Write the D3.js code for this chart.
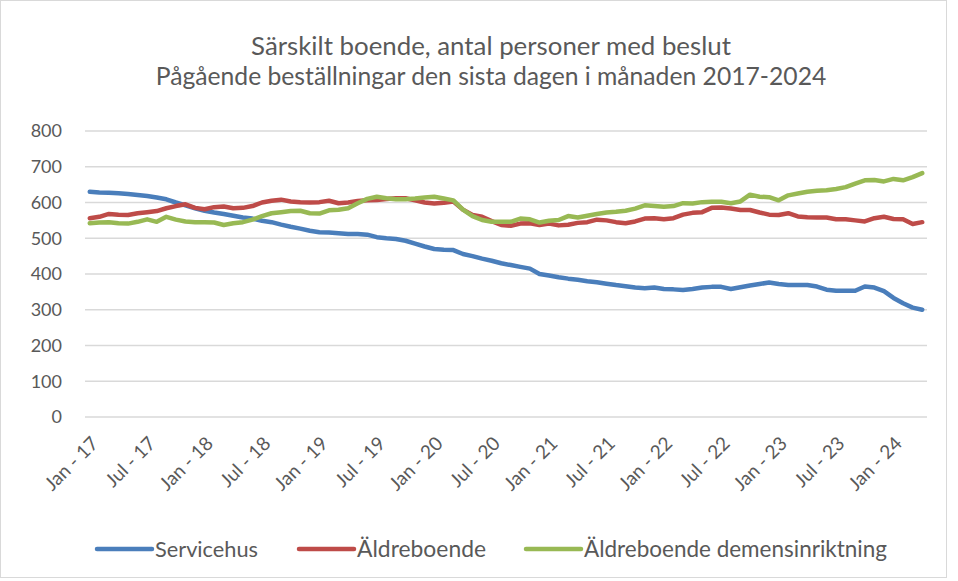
<!DOCTYPE html>
<html>
<head>
<meta charset="utf-8">
<script src="https://cdn.jsdelivr.net/npm/d3@7"></script>
<style>
  body { margin: 0; background: #fff; }
  svg text { font-family: Lato, "Open Sans", sans-serif; fill: #595959; }
</style>
</head>
<body>
<div id="chart"></div>
<script>
// Monthly values Jan 2017 - Apr 2024
const years = [17, 18, 19, 20, 21, 22, 23, 24];
const monthNames = ["Jan", "Feb", "Mar", "Apr", "Maj", "Jun", "Jul", "Aug", "Sep", "Okt", "Nov", "Dec"];
const monthCount = 88;

const servicehus = [
  630, 628, 627, 626, 624, 621, 618, 614, 609, 600, 592, 584,
  577, 572, 568, 563, 558, 555, 549, 545, 538, 532, 527, 521,
  517, 516, 514, 512, 512, 510, 503, 500, 498, 493, 485, 477,
  470, 468, 467, 456, 450, 443, 437, 430, 425, 420, 415, 400,
  396, 391, 387, 384, 380, 377, 373, 369, 366, 362, 360, 362,
  358, 357, 355, 358, 362, 364, 364, 358, 363, 368, 372, 376,
  372, 369, 369, 369, 365, 356, 353, 353, 353, 365, 362, 352,
  333, 318, 306, 300
];
const aldreboende = [
  556, 560, 568, 566, 565, 570, 573, 576, 584, 590, 595, 585,
  581, 587, 589, 584, 585, 590, 600, 605, 608, 603, 601, 600,
  601, 605, 598, 600, 604, 606, 607, 610, 612, 612, 606, 600,
  597, 599, 603, 580, 565, 560, 548, 537, 535, 541, 542, 537,
  541, 536, 538, 543, 545, 552, 550, 545, 542, 547, 555, 556,
  553, 556, 566, 571, 573, 585, 586, 583, 579, 579, 572, 566,
  565, 570, 561, 559, 558, 558, 553, 553, 550, 547, 556, 560,
  554, 553, 540, 545
];
const demens = [
  542, 544, 545, 542, 541, 546, 553, 546, 560, 552, 547, 545,
  545, 544, 537, 542, 545, 552, 562, 570, 573, 576, 577, 570,
  569, 578, 580, 584, 598, 610, 616, 612, 609, 609, 611, 614,
  616, 611, 606, 580, 562, 551, 546, 546, 546, 555, 553, 544,
  549, 551, 562, 558, 563, 568, 572, 574, 577, 583, 592, 590,
  588, 590, 598, 597, 601, 602, 602, 598, 603, 622, 616, 615,
  606, 620, 625, 630, 633, 634, 638, 643, 653, 662, 663, 659,
  666, 662, 671, 682
];
const yTicks = [0, 100, 200, 300, 400, 500, 600, 700, 800];

const titleLines = [
  "Särskilt boende, antal personer med beslut",
  "Pågående beställningar den sista dagen i månaden 2017-2024"
];
const seriesNames = ["Servicehus", "Äldreboende", "Äldreboende demensinriktning"];
const colors = ["#4a7ebb", "#be4b48", "#98b954"];

const width = 958;
const height = 581;
const plot = { left: 85, right: 927, top: 131, bottom: 417 };

const months = d3.range(monthCount).map(i => {
  const y = years[0] + Math.floor(i / 12);
  return `${monthNames[i % 12]} - ${y}`;
});

// scale a text's font so it spans the width it has in the reference
function fitWidth(sel, target) {
  sel.each(function () {
    const el = d3.select(this);
    const size = parseFloat(el.style("font-size"));
    const w = this.getComputedTextLength();
    el.style("font-size", (size * target / w).toFixed(2) + "px");
  });
}

const svg = d3.select("#chart")
  .append("svg")
  .attr("width", width)
  .attr("height", height);

svg.append("rect")
  .attr("x", 0.5).attr("y", 0.5)
  .attr("width", 946).attr("height", 577)
  .attr("fill", "#fff")
  .attr("stroke", "#d9d9d9");

const x = d3.scalePoint().domain(months).range([plot.left, plot.right]).padding(0.5);
const y = d3.scaleLinear().domain([0, 800]).range([plot.bottom, plot.top]);

// title
const titleWidths = [480, 671];
svg.append("g")
  .selectAll("text")
  .data(titleLines)
  .join("text")
  .attr("x", 491)
  .attr("y", (d, i) => 55 + i * 30)
  .attr("text-anchor", "middle")
  .style("font-size", "22px")
  .text(d => d)
  .each(function (d, i) { fitWidth(d3.select(this), titleWidths[i]); });

// gridlines + y labels
const yAxis = svg.append("g");
yAxis.selectAll("line")
  .data(yTicks)
  .join("line")
  .attr("x1", plot.left).attr("x2", plot.right)
  .attr("y1", d => y(d)).attr("y2", d => y(d))
  .attr("stroke", "#d9d9d9")
  .attr("stroke-width", 1.5);
yAxis.selectAll("text")
  .data(yTicks)
  .join("text")
  .attr("x", 62)
  .attr("y", d => y(d))
  .attr("dy", "0.36em")
  .attr("text-anchor", "end")
  .style("font-size", "18px")
  .text(d => d);

// x labels, every 6 months
const xLabels = months.filter((d, i) => i % 6 === 0);
svg.append("g")
  .selectAll("text")
  .data(xLabels)
  .join("text")
  .attr("transform", d => `translate(${x(d) + 5},${plot.bottom + 23}) rotate(-45)`)
  .attr("text-anchor", "end")
  .attr("dy", "0.35em")
  .style("font-size", "19px")
  .text(d => d);

// lines
const line = d3.line()
  .x((d, i) => x(months[i]))
  .y(d => y(d));

svg.append("g")
  .selectAll("path")
  .data([servicehus, aldreboende, demens])
  .join("path")
  .attr("d", d => line(d))
  .attr("fill", "none")
  .attr("stroke", (d, i) => colors[i])
  .attr("stroke-width", 4.5)
  .attr("stroke-linejoin", "round")
  .attr("stroke-linecap", "round");

// legend
const legendX = [97, 299, 526];
const legendWidths = [103, 129, 303];
const legend = svg.append("g")
  .selectAll("g")
  .data(seriesNames)
  .join("g")
  .attr("transform", (d, i) => `translate(${legendX[i]},549)`);
legend.append("line")
  .attr("x1", 0).attr("x2", 55)
  .attr("stroke", (d, i) => colors[i])
  .attr("stroke-width", 4.5)
  .attr("stroke-linecap", "round");
legend.append("text")
  .attr("x", 58)
  .attr("dy", "0.35em")
  .style("font-size", "20px")
  .text(d => d)
  .each(function (d, i) { fitWidth(d3.select(this), legendWidths[i]); });
</script>
</body>
</html>
